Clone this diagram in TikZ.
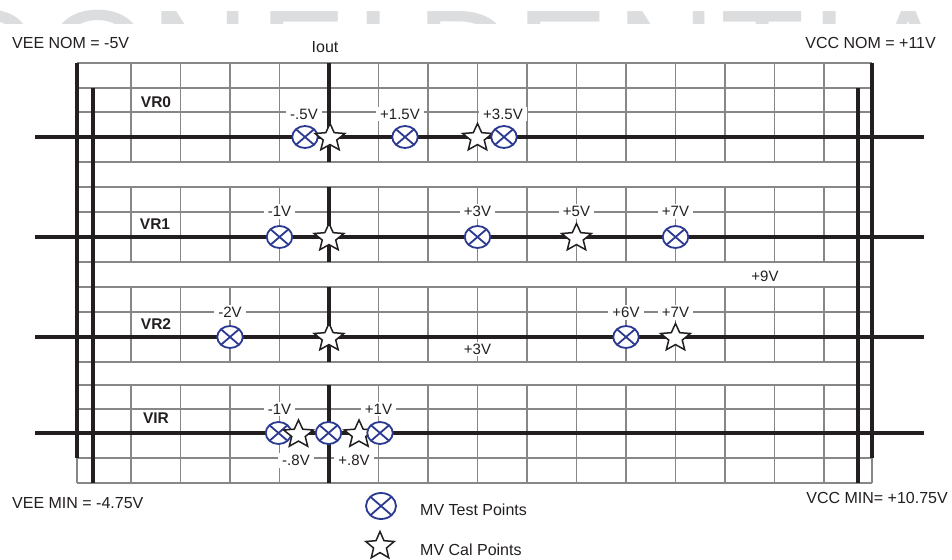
\documentclass[tikz,border=0pt]{standalone}
\usepackage{fontspec}
\setmainfont{Liberation Sans}
\usetikzlibrary{shapes.geometric}
\definecolor{tpblue}{RGB}{43,57,144}
\definecolor{gridgray}{RGB}{135,135,135}
\definecolor{ink}{RGB}{35,31,32}
\definecolor{wmgray}{RGB}{220,221,222}
\begin{document}
\begin{tikzpicture}[x=1bp,y=-1bp,
  gridline/.style={gridgray, line width=1.2bp},
  rail/.style={ink, line width=4.5bp},
  vlab/.style={fill=white, inner xsep=4bp, inner ysep=2bp, text=ink, font=\fontsize{15bp}{18bp}\selectfont},
  rowlab/.style={inner sep=0pt, text=ink, font=\fontsize{15.5bp}{18bp}\selectfont\bfseries},
  hdr/.style={inner sep=0pt, text=ink, font=\fontsize{16bp}{19bp}\selectfont},
  tp/.style={ellipse, draw=tpblue, line width=1.8bp, fill=white, minimum width=25.5bp, minimum height=22bp, inner sep=0pt,
    path picture={\draw[tpblue, line width=1.8bp] (path picture bounding box.north west) -- (path picture bounding box.south east) (path picture bounding box.north east) -- (path picture bounding box.south west);}},
  calpt/.style={star, star points=5, star point ratio=2.2, minimum size=29bp, inner sep=0pt, xscale=1.08, draw=ink, line width=1.5bp, fill=white},
  wm/.style={text=wmgray, inner sep=0pt, anchor=base, font=\fontsize{138bp}{140bp}\selectfont}
]
\useasboundingbox (0,0) rectangle (952,560);
\fill[white] (0,0) rectangle (952,560);
% watermark
\begin{scope}
\clip (0,0) rectangle (952,24);
\node[wm] (wmC) at (-15,106.8) {C};
\node[wm] (wmO) at (98.5,106.8) {O};
\node[wm] (wmN) at (200,106.8) {N};
\node[wm] (wmF) at (302,106.8) {F};
\node[wm] (wmI) at (374,106.8) {I};
\node[wm] (wmD) at (466,106.8) {D};
\node[wm] (wmE) at (563,106.8) {E};
\node[wm] (wmNb) at (666,106.8) {N};
\node[wm] (wmT) at (762.5,106.8) {T};
\node[wm] (wmIb) at (829.5,106.8) {I};
\node[wm] (wmA) at (909,106.8) {A};
\end{scope}
% grid
\foreach \y in {63,88,112,137,162,187,212,237,262,287,312,337,362,385,409,433,458,483}
  \draw[gridline] (77,\y) -- (872,\y);
\foreach \t/\b in {63/162,187/262,287/362,385/483}
  \foreach \k in {0,...,14}
    \draw[gridline] ({131+49.5*\k},\t) -- ({131+49.5*\k},\b);
\draw[gridline] (77,63) -- (77,483);
\draw[gridline] (872,63) -- (872,483);
% rails
\draw[rail] (77,63) -- (77,458);
\draw[rail] (93,88) -- (93,483);
\draw[rail] (872,63) -- (872,458);
\draw[rail] (858,88) -- (858,483);
\foreach \t/\b in {63/162,187/262,287/362,385/483}
  \draw[rail] (329,\t) -- (329,\b);
\foreach \y in {137,237,337,433}
  \draw[rail] (35,\y) -- (924,\y);
% header and footer texts
\node[hdr, anchor=base west] (veenom) at (12,49) {VEE NOM = -5V};
\node[hdr, anchor=base] (iout) at (325,53) {Iout};
\node[hdr, anchor=base east] (vccnom) at (936,49) {VCC NOM = +11V};
\node[hdr, anchor=base west] (veemin) at (12,508) {VEE MIN = -4.75V};
\node[hdr, anchor=base east] (vccmin) at (948,503) {VCC MIN= +10.75V};
% row labels
\node[rowlab] (vr0) at (156,102) {VR0};
\node[rowlab] (vr1) at (155,224.5) {VR1};
\node[rowlab] (vr2) at (156,324) {VR2};
\node[rowlab] (vir) at (156,418) {VIR};
% voltage labels
\node[vlab] (l01) at (304,114) {-.5V};
\node[vlab] (l02) at (400,114) {+1.5V};
\node[vlab] (l03) at (503,114) {+3.5V};
\node[vlab] (l11) at (279.5,211.5) {-1V};
\node[vlab] (l12) at (477.5,211.5) {+3V};
\node[vlab] (l13) at (576.5,211.5) {+5V};
\node[vlab] (l14) at (675.5,211.5) {+7V};
\node[vlab] (l9) at (765,276) {+9V};
\node[vlab] (l21) at (230,312.5) {-2V};
\node[vlab] (l22) at (626,312.5) {+6V};
\node[vlab] (l23) at (675.5,312.5) {+7V};
\node[vlab] (l24) at (477.5,349) {+3V};
\node[vlab] (l31) at (279.5,409) {-1V};
\node[vlab] (l32) at (378.5,409) {+1V};
\node[vlab] (l33) at (296,460.5) {-.8V};
\node[vlab] (l34) at (354,460.5) {+.8V};
% markers VR0
\node[tp] (t01) at (305,137) {};
\node[calpt] (c01) at (330,138) {};
\node[tp] (t02) at (405,137) {};
\node[calpt] (c02) at (477.5,138) {};
\node[tp] (t03) at (504,137) {};
% markers VR1
\node[tp] (t11) at (279.5,237) {};
\node[calpt] (c11) at (329,238) {};
\node[tp] (t12) at (477.5,237) {};
\node[calpt] (c12) at (576.5,238) {};
\node[tp] (t13) at (675.5,237) {};
% markers VR2
\node[tp] (t21) at (230,337) {};
\node[calpt] (c21) at (329,338) {};
\node[tp] (t22) at (626,337) {};
\node[calpt] (c22) at (675.5,338) {};
% markers VIR
\node[tp] (t31) at (278.5,433) {};
\node[calpt] (c31) at (298.5,434.5) {};
\node[tp] (t32) at (328.5,433) {};
\node[calpt] (c32) at (359,434.5) {};
\node[tp] (t33) at (380,433) {};
% legend
\node[tp, minimum width=30bp, minimum height=26bp] (legtp) at (381,506) {};
\node[hdr, anchor=base west] (legtptext) at (420,515) {MV Test Points};
\node[calpt, minimum size=29bp, xscale=0.95] (legcal) at (380,546) {};
\node[hdr, anchor=base west] (legcaltext) at (420,555) {MV Cal Points};
\end{tikzpicture}
\end{document}
